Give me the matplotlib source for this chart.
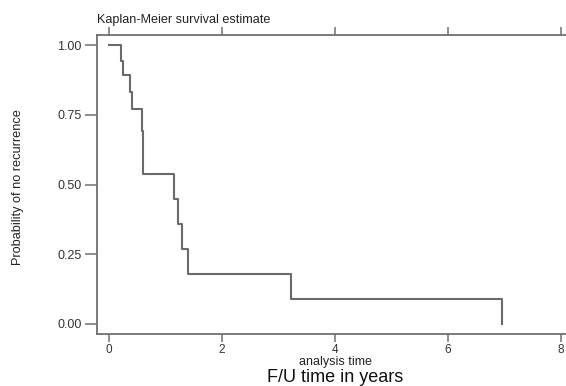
import numpy as np
import matplotlib
matplotlib.use('Agg')
import matplotlib.pyplot as plt

plt.rcParams['font.family'] = ['Liberation Sans', 'DejaVu Sans']

# Kaplan-Meier step curve
times = [0.0, 0.22, 0.24, 0.38, 0.40, 0.58, 0.595, 0.61,
         1.15, 1.22, 1.29, 1.39, 3.22, 6.96]
surv = [1.0, 0.944, 0.892, 0.830, 0.770, 0.692, 0.615, 0.538,
        0.448, 0.359, 0.269, 0.179, 0.090, 0.0]

x_ticks = [0, 2, 4, 6, 8]
y_ticks = [0.0, 0.25, 0.50, 0.75, 1.00]
y_labels = ['0.00', '0.25', '0.50', '0.75', '1.00']

W, H = 566, 386
fig = plt.figure(figsize=(W / 100, H / 100), dpi=100)
ax = fig.add_axes([97 / W, 1 - 334 / H, 1 - 97 / W, (334 - 35) / H])

line_col = '#6a6a6a'
ax.step(times, surv, where='post', color=line_col, lw=1.5)

ax.set_xlim(-0.212, 8.09)
ax.set_ylim(-0.036, 1.036)

ax.set_xticks(x_ticks)
ax.set_yticks(y_ticks)
ax.set_yticklabels(y_labels)

for s in ['left', 'bottom', 'top']:
    ax.spines[s].set_color('#707070')
    ax.spines[s].set_linewidth(1.3)
ax.spines['right'].set_visible(False)

ax.tick_params(axis='both', colors='#707070', labelcolor='#333333',
               direction='out', width=1.1)
ax.tick_params(axis='x', top=True, length=6, pad=1, labelsize=8.5)
ax.tick_params(axis='y', length=9, pad=2, labelsize=9)

fig.text(335 / W, 1 - 362 / H, 'analysis time', fontsize=9,
         color='#222222', ha='center', va='center')
fig.text(18 / W, 1 - 187 / H, 'Probability of no recurrence', fontsize=9.2,
         color='#222222', ha='center', va='center', rotation=90)
fig.text(97 / W, 1 - 20 / H, 'Kaplan-Meier survival estimate',
         fontsize=9.1, color='#222222', ha='left', va='center')
fig.text(335 / W, 1 - 378 / H, 'F/U time in years',
         fontsize=13, color='#111111', ha='center', va='center')

fig.savefig('out.png', dpi=100)
